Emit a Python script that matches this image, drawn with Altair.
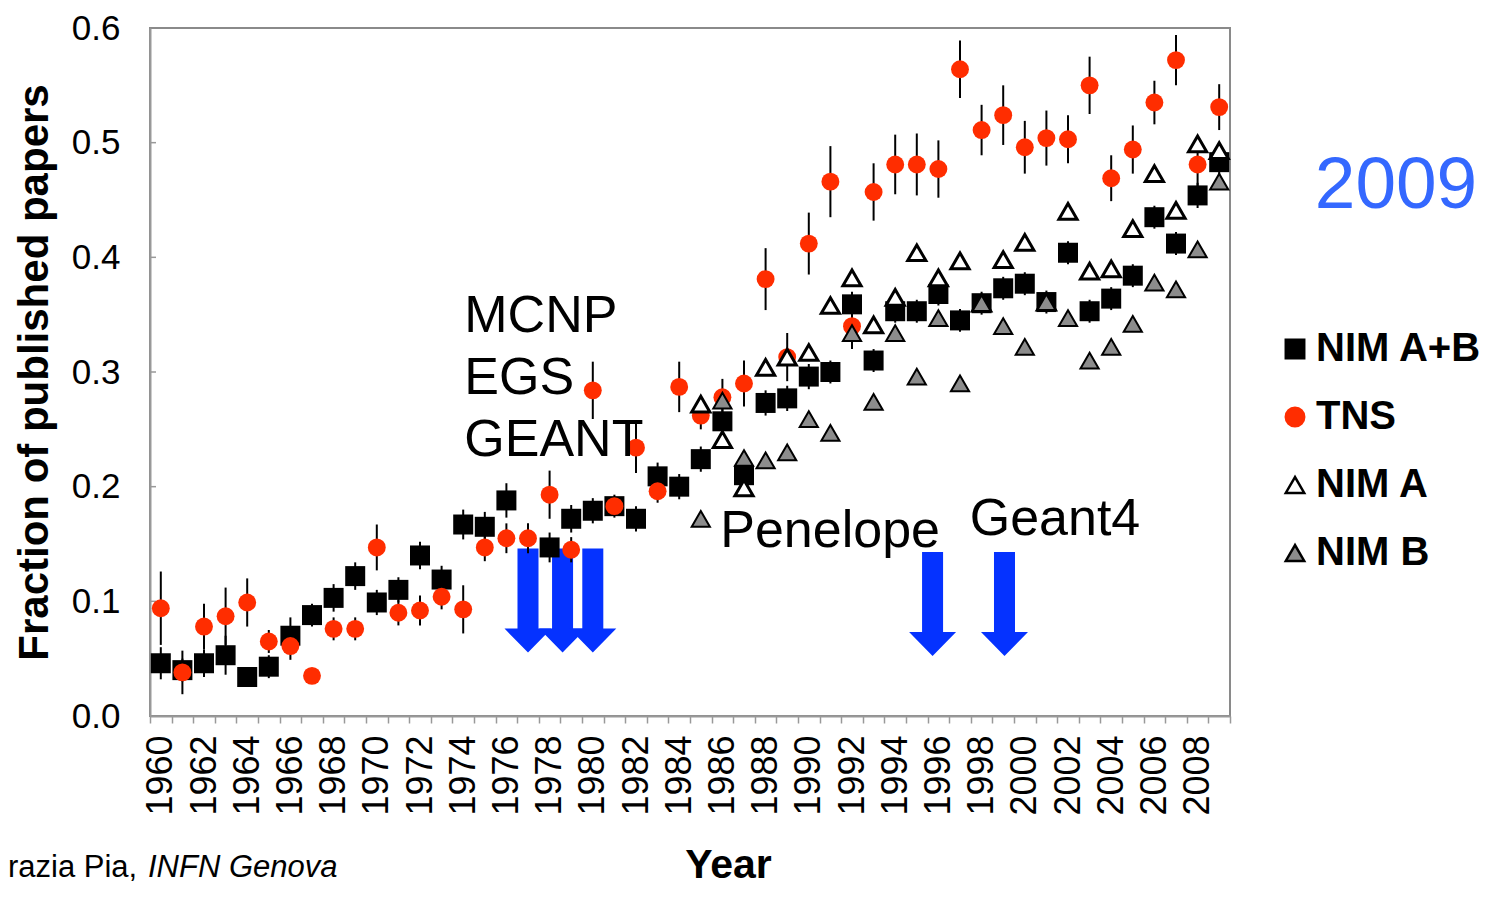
import altair as alt
import pandas as pd

FONT = "Liberation Sans, Arial, sans-serif"

years = list(range(1960, 2010))
nim_ab = [0.046, 0.040, 0.046, 0.053, 0.034, 0.043, 0.070, 0.088, 0.103, 0.122,
          0.099, 0.110, 0.140, 0.119, 0.167, 0.165, 0.188, None, 0.147, 0.172,
          0.179, 0.183, 0.172, 0.209, 0.200, 0.224, 0.257, 0.210, 0.273, 0.277,
          0.296, 0.300, 0.359, 0.310, 0.353, 0.353, 0.368, 0.345, 0.360, 0.373,
          0.377, 0.361, 0.404, 0.353, 0.364, 0.384, 0.435, 0.412, 0.454, 0.483]
nim_ab_err = [0.014, 0.010, 0.012, 0.017, 0.008, 0.010, 0.016, 0.010, 0.012, 0.012,
              0.011, 0.011, 0.012, 0.012, 0.013, 0.013, 0.015, None, 0.013, 0.012,
              0.011, 0.010, 0.011, 0.012, 0.011, 0.011, 0.012, 0.010, 0.011, 0.011,
              0.011, 0.010, 0.011, 0.010, 0.010, 0.010, 0.010, 0.010, 0.010, 0.010,
              0.010, 0.010, 0.010, 0.010, 0.010, 0.010, 0.010, 0.010, 0.011, 0.011]
tns = [0.094, 0.038, 0.078, 0.087, 0.099, 0.065, 0.061, 0.035, 0.076, 0.076,
       0.147, 0.090, 0.092, 0.104, 0.093, 0.147, 0.155, 0.155, 0.193, 0.145,
       0.284, 0.183, 0.234, 0.196, 0.287, 0.262, 0.278, 0.290, 0.381, 0.313,
       0.412, 0.466, 0.340, 0.457, 0.481, 0.481, 0.477, 0.564, 0.511, 0.524,
       0.496, 0.504, 0.503, 0.550, 0.469, 0.494, 0.535, 0.572, 0.481, 0.531]
tns_err = [0.032, 0.019, 0.020, 0.025, 0.021, 0.010, 0.012, 0.006, 0.010, 0.010,
           0.020, 0.011, 0.013, 0.011, 0.021, 0.012, 0.013, 0.013, 0.021, 0.011,
           0.025, 0.008, 0.022, 0.010, 0.022, 0.012, 0.016, 0.020, 0.027, 0.021,
           0.027, 0.031, 0.020, 0.025, 0.026, 0.027, 0.025, 0.025, 0.022, 0.026,
           0.023, 0.024, 0.021, 0.025, 0.020, 0.021, 0.019, 0.022, 0.019, 0.020]
ab_years = list(range(1985, 2010))
nim_a = [0.272, 0.241, 0.199, 0.304, 0.313, 0.317, 0.358, 0.382, 0.341, 0.365,
         0.404, 0.382, 0.397, 0.360, 0.398, 0.413, 0.361, 0.440, 0.388, 0.390,
         0.425, 0.473, 0.441, 0.499, 0.493]
nim_b = [0.172, 0.275, 0.225, 0.223, 0.230, 0.259, 0.247, 0.334, 0.274, 0.334,
         0.296, 0.347, 0.290, 0.360, 0.340, 0.322, 0.361, 0.347, 0.310, 0.322,
         0.342, 0.378, 0.372, 0.407, 0.466]

series_order = ["NIM A+B", "TNS", "NIM A", "NIM B"]
shapes = ["square", "circle", "triangle-up", "triangle-up"]
fills = ["#000000", "#FF2D00", "#FFFFFF", "#8C8C8C"]
strokes = ["#000000", "#FF2D00", "#000000", "#000000"]

ann_labels = ["MCNP", "EGS", "GEANT", "Penelope", "Geant4"]
ann_x = [1974.05, 1974.05, 1974.05, 1985.9, 1997.45]
ann_y = [0.335, 0.281, 0.227, 0.147, 0.158]

arrow_x = [1977.0, 1978.6, 1980.0, 1995.73, 1999.06]
arrow_y = [0.146, 0.146, 0.146, 0.143, 0.143]

rows = []
for yr, v, e in zip(years, nim_ab, nim_ab_err):
    if v is not None:
        rows.append(dict(year=yr, value=v, err=e, series="NIM A+B"))
for yr, v, e in zip(years, tns, tns_err):
    rows.append(dict(year=yr, value=v, err=e, series="TNS"))
for yr, v in zip(ab_years, nim_a):
    rows.append(dict(year=yr, value=v, err=0.0, series="NIM A"))
for yr, v in zip(ab_years, nim_b):
    rows.append(dict(year=yr, value=v, err=0.0, series="NIM B"))
df = pd.DataFrame(rows)
df["lo"] = df["value"] - df["err"]
df["hi"] = df["value"] + df["err"]
err_df = df[df["series"].isin(["NIM A+B", "TNS"])]

PLOT_W, PLOT_H = 1080, 688

x_ticks = [1959.5 + i for i in range(51)]
x_axis = alt.Axis(
    values=x_ticks,
    labelExpr="(datum.value < 2009 && (datum.value + 0.5) % 2 == 0) ? format(datum.value + 0.5, 'd') : ''",
    labelAngle=-90, labelAlign="right", labelBaseline="middle",
    labelOffset=10.8, labelPadding=12, labelOverlap=False, labelFlush=False,
    labelFontSize=36, labelFont=FONT, labelColor="black",
    tickSize=7, tickColor="#999999", tickWidth=1.5,
    domainColor="#999999", domainWidth=2, grid=False,
    title="Year", titleFont=FONT, titleFontSize=41, titleFontWeight="bold",
    titleColor="black", titleX=578, titleY=161, titleAlign="center",
    titleBaseline="alphabetic",
)
y_axis = alt.Axis(
    values=[0.0, 0.1, 0.2, 0.3, 0.4, 0.5, 0.6], format=".1f",
    ticks=False, labelPadding=30, labelFlush=False,
    labelFontSize=35, labelFont=FONT, labelColor="black",
    domainColor="#999999", domainWidth=2, grid=False,
    title="Fraction of published papers", titleFont=FONT, titleFontSize=42,
    titleFontWeight="bold", titleColor="black", titleX=-103, titleY=PLOT_H / 2,
    titleAngle=-90, titleAlign="center", titleBaseline="alphabetic",
)
x_scale = alt.Scale(domain=[1959.5, 2009.5], nice=False, zero=False)
y_scale = alt.Scale(domain=[0, 0.6], nice=False, zero=False)


def X(f="year"):
    return alt.X(f"{f}:Q", scale=x_scale, axis=x_axis, title="Year")


def Y(f="value"):
    return alt.Y(f"{f}:Q", scale=y_scale, axis=y_axis, title="Fraction of published papers")


leg = alt.Legend(
    title=None, orient="none", legendX=1125, legendY=301, padding=0,
    labelFontSize=40, labelFont=FONT, labelFontWeight="bold", labelColor="black",
    labelLimit=400, symbolSize=340, symbolStrokeWidth=2.5, rowPadding=28, labelOffset=1,
)
enc_common = dict(
    shape=alt.Shape("series:N", scale=alt.Scale(domain=series_order, range=shapes), legend=leg),
    fill=alt.Fill("series:N", scale=alt.Scale(domain=series_order, range=fills), legend=leg),
    stroke=alt.Stroke("series:N", scale=alt.Scale(domain=series_order, range=strokes), legend=leg),
)

# inward y ticks
ytick_df = pd.DataFrame({"value": [0.1, 0.2, 0.3, 0.4, 0.5]})
yticks = alt.Chart(ytick_df).mark_rule(color="#999999", strokeWidth=1.5).encode(
    y=Y("value"), x=alt.value(0), x2=alt.value(6)
)

arrow_path = "M -0.447 0 L 0.447 0 L 0.447 3.404 L 1 3.404 L 0 4.426 L -1 3.404 L -0.447 3.404 Z"
arrow_df = pd.DataFrame({"year": arrow_x, "value": arrow_y})
arrows = alt.Chart(arrow_df).mark_point(
    shape=arrow_path, size=2209, filled=True, color="#0532FF", opacity=1, strokeWidth=0
).encode(x=X(), y=Y())

errbars = alt.Chart(err_df).mark_rule(color="black", strokeWidth=2).encode(
    x=X(), y=Y("lo"), y2="hi:Q"
)

point_layers = []
for s, size, sw in [("NIM A+B", 400, 0), ("TNS", 320, 0), ("NIM A", 330, 3), ("NIM B", 330, 2)]:
    point_layers.append(
        alt.Chart(df[df["series"] == s]).mark_point(
            filled=True, opacity=1, size=size, strokeWidth=sw
        ).encode(x=X(), y=Y(), **enc_common)
    )

ann_df = pd.DataFrame({"year": ann_x, "value": ann_y, "label": ann_labels})
ann = alt.Chart(ann_df).mark_text(
    align="left", baseline="alphabetic", fontSize=52, font=FONT, color="black"
).encode(x=X(), y=Y(), text="label:N")

year_txt = alt.Chart(pd.DataFrame({"t": ["2009"]})).mark_text(
    align="center", baseline="alphabetic", fontSize=73, font=FONT, color="#3468FF"
).encode(text="t:N", x=alt.value(1246), y=alt.value(180))

foot1 = alt.Chart(pd.DataFrame({"t": ["razia Pia, "]})).mark_text(
    align="left", baseline="alphabetic", fontSize=31, font=FONT, color="black"
).encode(text="t:N", x=alt.value(-142), y=alt.value(849))
foot2 = alt.Chart(pd.DataFrame({"t": ["INFN Genova"]})).mark_text(
    align="left", baseline="alphabetic", fontSize=31, font=FONT, fontStyle="italic", color="black"
).encode(text="t:N", x=alt.value(-2), y=alt.value(849))

chart = alt.layer(
    yticks, arrows, errbars, *point_layers, ann, year_txt, foot1, foot2
).properties(
    width=PLOT_W, height=PLOT_H,
    autosize=alt.AutoSizeParams(type="none"),
    padding={"left": 142, "top": 20, "right": 259, "bottom": 173},
).configure_view(stroke="#8a8a8a", strokeWidth=2)

chart.save("out.html", embed_options={"renderer": "svg", "actions": False})
